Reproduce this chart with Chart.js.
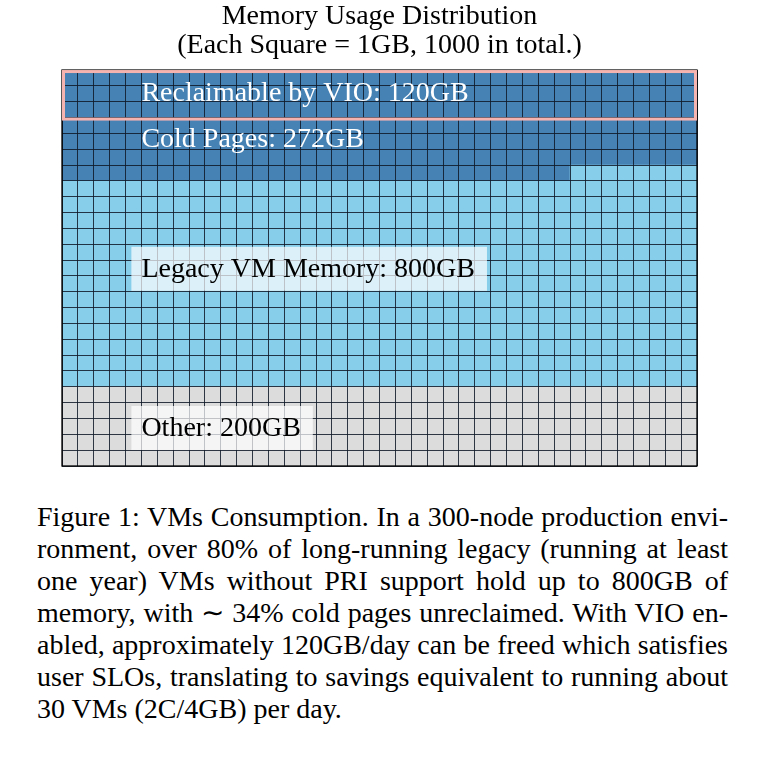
<!DOCTYPE html>
<html>
<head>
<meta charset="utf-8">
<script src="https://cdn.jsdelivr.net/npm/chart.js@4.4.1/dist/chart.umd.min.js"></script>
<style>
  html, body { margin: 0; padding: 0; background: #fff; }
  #wrap { position: absolute; left: 0; top: 0; width: 766px; height: 480px; }
  #caption { position: absolute; left: 37px; top: 501px; width: 691px;
    font-family: "Liberation Serif", "Times New Roman", serif; font-size: 28px; line-height: 32px; color: #000; }
  #caption div { text-align: justify; text-align-last: justify; white-space: nowrap; }
  #caption div.last { text-align-last: left; }
</style>
</head>
<body>
<div id="wrap"><canvas id="c" width="766" height="480"></canvas></div>
<div id="caption">
  <div>Figure 1: VMs Consumption. In a 300-node production envi-</div>
  <div>ronment, over 80% of long-running legacy (running at least</div>
  <div>one year) VMs without PRI support hold up to 800GB of</div>
  <div>memory, with ∼ 34% cold pages unreclaimed. With VIO en-</div>
  <div>abled, approximately 120GB/day can be freed which satisfies</div>
  <div>user SLOs, translating to savings equivalent to running about</div>
  <div class="last">30 VMs (2C/4GB) per day.</div>
</div>
<script>
// ---- data ----
const categories = ['Other', 'Legacy VM Memory', 'Cold Pages', 'Reclaimable by VIO'];
const valuesGB = [200, 800, 272, 120];
const gridCols = 40;
const gridRows = 25;
const titleLines = ['Memory Usage Distribution', '(Each Square = 1GB, 1000 in total.)'];

// ---- styles ----
const catColors = ['#dcdcdc', '#87ceeb', '#4682b4', '#4682b4'];
const SERIF = '"Liberation Serif", "Times New Roman", serif';

// category for a cell (rowFromTop, col)
function cellCat(rowTop, col) {
  const rowBottom = gridRows - 1 - rowTop;
  const idxBottom = rowBottom * gridCols + col;
  if (idxBottom < valuesGB[0]) return 0;
  const idxTop = rowTop * gridCols + col;
  if (idxTop < valuesGB[3]) return 3;
  if (idxTop < valuesGB[2]) return 2;
  return 1;
}

const colLabels = Array.from({length: gridCols}, (_, i) => String(i + 1));
const datasets = [];
for (let rb = 0; rb < gridRows; rb++) {
  const rowTop = gridRows - 1 - rb;
  datasets.push({
    label: 'row ' + (rb + 1),
    data: colLabels.map(() => 1),
    backgroundColor: colLabels.map((_, c) => catColors[cellCat(rowTop, c)]),
    borderWidth: 0,
    barPercentage: 1,
    categoryPercentage: 1,
    stack: 's'
  });
}

// label placement (in grid units: column, row value from bottom)
const labelSpecs = [
  { text: categories[3] + ': ' + valuesGB[3] + 'GB', col: 5, y: 23.6, color: '#fff', box: false },
  { text: categories[2] + ': ' + valuesGB[2] + 'GB', col: 5, y: 20.65, color: '#fff', box: false },
  { text: categories[1] + ': ' + valuesGB[1] + 'GB', col: 5, y: 12.45, color: '#000', box: true },
  { text: categories[0] + ': ' + valuesGB[0] + 'GB', col: 5, y: 2.4, color: '#000', box: true }
];

const overlay = {
  id: 'overlay',
  afterDraw(chart) {
    const ctx = chart.ctx, a = chart.chartArea;
    const ys = chart.scales.y;
    const cellW = (a.right - a.left) / gridCols;
    ctx.save();
    // outer frame
    ctx.strokeStyle = '#000';
    ctx.lineWidth = 1.3;
    ctx.strokeRect(a.left, a.top, a.right - a.left, a.bottom - a.top);
    // reclaimable frame (top rows)
    const reclRows = valuesGB[3] / gridCols;
    const yTop = ys.getPixelForValue(gridRows);
    const yBot = ys.getPixelForValue(gridRows - reclRows);
    ctx.strokeStyle = '#f6b4b0';
    ctx.lineWidth = 3;
    ctx.strokeRect(a.left + 1.5, yTop + 1.5, a.right - a.left - 3, yBot - yTop);
    // labels
    ctx.font = '28px ' + SERIF;
    ctx.textBaseline = 'middle';
    ctx.textAlign = 'left';
    labelSpecs.forEach(l => {
      const x = a.left + l.col * cellW;
      const y = ys.getPixelForValue(l.y);
      const w = ctx.measureText(l.text).width;
      if (l.box) {
        ctx.fillStyle = 'rgba(255,255,255,0.7)';
        ctx.fillRect(x - 10, y - 22, w + 22, 44);
      }
      ctx.fillStyle = l.color;
      ctx.fillText(l.text, x, y + 1);
    });
    ctx.restore();
  }
};

new Chart(document.getElementById('c'), {
  type: 'bar',
  data: { labels: colLabels, datasets },
  options: {
    responsive: false,
    animation: false,
    layout: { padding: { left: 62, right: 69, top: 0, bottom: 14 } },
    plugins: {
      legend: { display: false },
      tooltip: { enabled: false },
      title: {
        display: true,
        text: titleLines,
        color: '#000',
        font: { family: SERIF, size: 28, weight: 'normal', lineHeight: 1.04 },
        padding: { top: 2.4, bottom: 9.4 }
      }
    },
    scales: {
      x: {
        stacked: true,
        offset: true,
        ticks: { display: false, autoSkip: false },
        grid: { offset: true, color: 'rgba(15,25,40,0.85)', lineWidth: 1, drawTicks: false, z: 1 },
        border: { display: false }
      },
      y: {
        stacked: true,
        min: 0, max: gridRows,
        ticks: { display: false, stepSize: 1 },
        grid: { color: 'rgba(15,25,40,0.85)', lineWidth: 1, drawTicks: false, z: 1 },
        border: { display: false }
      }
    }
  },
  plugins: [overlay]
});
</script>
</body>
</html>
